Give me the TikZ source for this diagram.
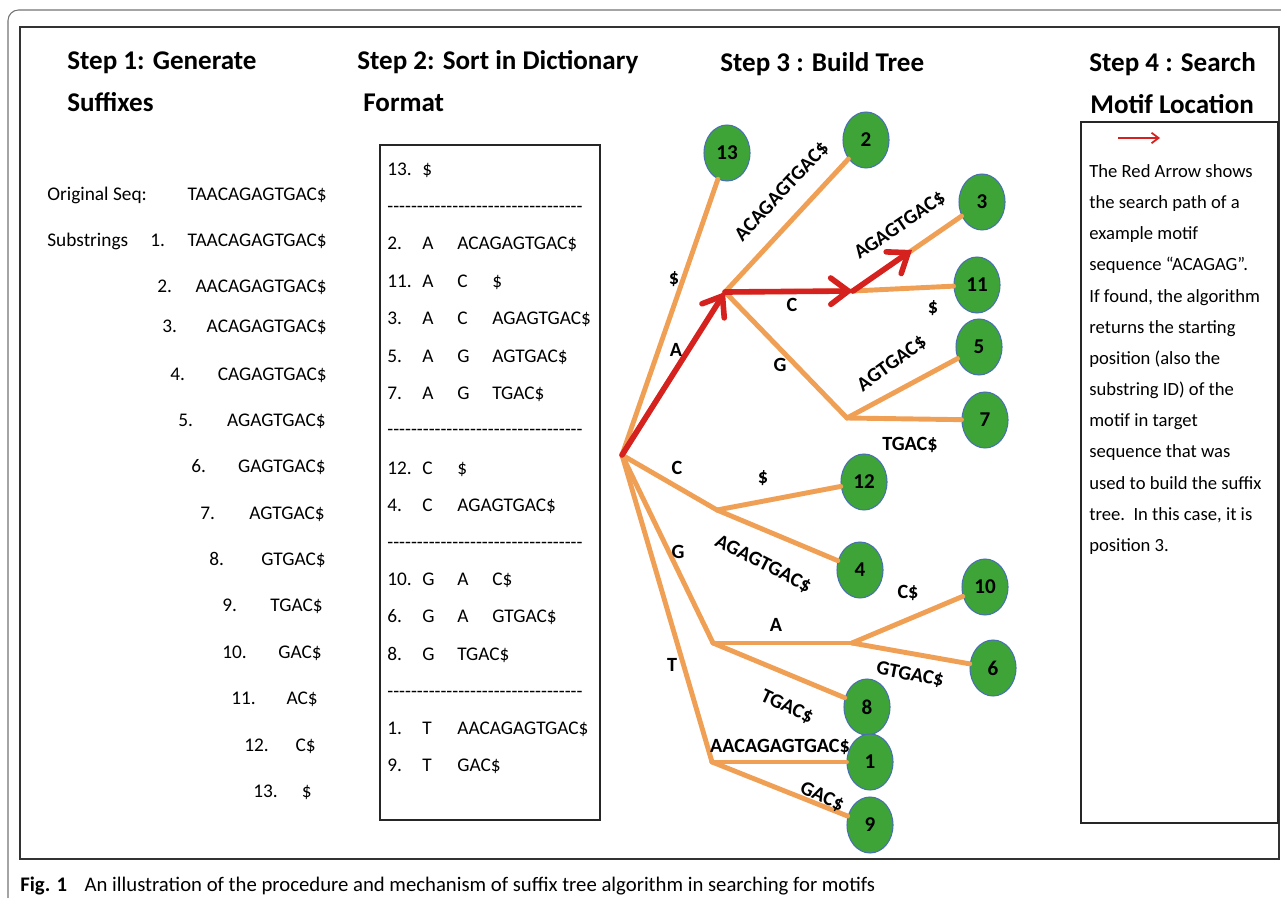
\documentclass[tikz,border=0pt]{standalone}
\usepackage{fontspec}
\setmainfont{Carlito}
\usetikzlibrary{shapes.geometric,arrows.meta}

\definecolor{leafgreen}{RGB}{62,164,56}
\definecolor{leafrim}{RGB}{72,112,178}
\definecolor{branch}{RGB}{240,160,84}
\definecolor{pathred}{RGB}{214,34,30}

\newcommand\dashrow{\foreach\k in {1,...,33}{-\kern0pt}}
\newcommand\sortrow[4]{\makebox[0.7cm][l]{#1}\makebox[0.7cm][l]{#2}\makebox[0.7cm][l]{#3}#4}

\tikzset{
  stephead/.style={font=\fontsize{15.4}{18}\selectfont\bfseries, anchor=base west, inner sep=0},
  body/.style={font=\fontsize{11}{13}\selectfont, inner sep=0},
  leaf/.style={ellipse, fill=leafgreen, draw=leafrim, line width=0.6pt,
    minimum width=0.92cm, minimum height=1.12cm, inner sep=0,
    font=\fontsize{12}{14}\selectfont\bfseries},
  branchline/.style={draw=branch, line width=2.8pt, line cap=round},
  redpath/.style={draw=pathred, line width=3.2pt, line cap=round,
    -{Straight Barb[length=10pt,width=15pt,line cap=round]}},
  lbl/.style={font=\fontsize{11.5}{13}\selectfont\bfseries, inner sep=0},
}

\begin{document}
\begin{tikzpicture}[x=0.02cm,y=-0.02cm]

    \useasboundingbox (0,0) rectangle (1281,898);

    % marcos
    \draw[black!55, line width=0.6pt, rounded corners=6pt] (8,898) -- (8,10) -- (1281,10);
    \draw[black!80, line width=1pt] (20,27) rectangle (1279,859);
    \draw[black!85, line width=0.7pt] (380,145) rectangle (600,820);
    \draw[black!85, line width=0.8pt] (1081,122) rectangle (1278,823);

    % titulos
    \node[stephead] (h1a) at (67,70) {Step 1: Generate};
    \node[stephead] (h1b) at (67,112) {Suffixes};
    \node[stephead] (h2a) at (357,70) {Step 2: Sort in Dictionary};
    \node[stephead] (h2b) at (363,112) {Format};
    \node[stephead] (h3) at (720,72) {Step 3 : Build Tree};
    \node[stephead] (h4a) at (1089,72) {Step 4 : Search};
    \node[stephead] (h4b) at (1090,114) {Motif Location};

    % paso 1
    \node[body, anchor=base west] (orig) at (47,201) {Original Seq:};
    \node[body, anchor=base east] (origseq) at (327,201) {TAACAGAGTGAC\$};
    \node[body, anchor=base west] (subs) at (47,247) {Substrings};
    \node[body, anchor=base west] (n1) at (150,247) {1.};
    \node[body, anchor=base east] (s1) at (327,247) {TAACAGAGTGAC\$};
    \node[body, anchor=base west] (n2) at (157,293) {2.};
    \node[body, anchor=base east] (s2) at (327,293) {AACAGAGTGAC\$};
    \node[body, anchor=base west] (n3) at (162,333) {3.};
    \node[body, anchor=base east] (s3) at (327,333) {ACAGAGTGAC\$};
    \node[body, anchor=base west] (n4) at (170,380) {4.};
    \node[body, anchor=base east] (s4) at (327,380) {CAGAGTGAC\$};
    \node[body, anchor=base west] (n5) at (178,426) {5.};
    \node[body, anchor=base east] (s5) at (326,426) {AGAGTGAC\$};
    \node[body, anchor=base west] (n6) at (191,472) {6.};
    \node[body, anchor=base east] (s6) at (326,472) {GAGTGAC\$};
    \node[body, anchor=base west] (n7) at (200,519) {7.};
    \node[body, anchor=base east] (s7) at (325,519) {AGTGAC\$};
    \node[body, anchor=base west] (n8) at (209,565) {8.};
    \node[body, anchor=base east] (s8) at (326,565) {GTGAC\$};
    \node[body, anchor=base west] (n9) at (222,611) {9.};
    \node[body, anchor=base east] (s9) at (323,611) {TGAC\$};
    \node[body, anchor=base west] (n10) at (222,658) {10.};
    \node[body, anchor=base east] (s10) at (322,658) {GAC\$};
    \node[body, anchor=base west] (n11) at (231,704) {11.};
    \node[body, anchor=base east] (s11) at (318,704) {AC\$};
    \node[body, anchor=base west] (n12) at (244,751) {12.};
    \node[body, anchor=base east] (s12) at (316,751) {C\$};
    \node[body, anchor=base west] (n13) at (253,797) {13.};
    \node[body, anchor=base east] (s13) at (312,797) {\$};

    % paso 2
    \node[body, anchor=base west] (r13) at (387,176) {\sortrow{13.}{\$}{}{}};
    \node[body, anchor=base west] (d1) at (387,213) {\dashrow};
    \node[body, anchor=base west] (r2) at (387,250) {\sortrow{2.}{A}{ACAGAGTGAC\$}{}};
    \node[body, anchor=base west] (r11) at (387,288) {\sortrow{11.}{A}{C}{\$}};
    \node[body, anchor=base west] (r3) at (387,325) {\sortrow{3.}{A}{C}{AGAGTGAC\$}};
    \node[body, anchor=base west] (r5) at (387,362) {\sortrow{5.}{A}{G}{AGTGAC\$}};
    \node[body, anchor=base west] (r7) at (387,399) {\sortrow{7.}{A}{G}{TGAC\$}};
    \node[body, anchor=base west] (d2) at (387,436) {\dashrow};
    \node[body, anchor=base west] (r12) at (387,474) {\sortrow{12.}{C}{\$}{}};
    \node[body, anchor=base west] (r4) at (387,511) {\sortrow{4.}{C}{AGAGTGAC\$}{}};
    \node[body, anchor=base west] (d3) at (387,548) {\dashrow};
    \node[body, anchor=base west] (r10) at (387,585) {\sortrow{10.}{G}{A}{C\$}};
    \node[body, anchor=base west] (r6) at (387,622) {\sortrow{6.}{G}{A}{GTGAC\$}};
    \node[body, anchor=base west] (r8) at (387,660) {\sortrow{8.}{G}{TGAC\$}{}};
    \node[body, anchor=base west] (d4) at (387,697) {\dashrow};
    \node[body, anchor=base west] (r1) at (387,734) {\sortrow{1.}{T}{AACAGAGTGAC\$}{}};
    \node[body, anchor=base west] (r9) at (387,771) {\sortrow{9.}{T}{GAC\$}{}};

    % paso 3: nodos internos
    \coordinate (root) at (622,455);
    \coordinate (nA) at (725,292);
    \coordinate (nAC) at (853,291);
    \coordinate (nAG) at (847,418);
    \coordinate (nC) at (717,510);
    \coordinate (nG) at (713,643);
    \coordinate (nGA) at (852,643);
    \coordinate (nT) at (712,762);
    \coordinate (redtip) at (912,250);

    % hojas
    \node[leaf] (l13) at (727,153) {13};
    \node[leaf] (l2) at (866,140) {2};
    \node[leaf] (l3) at (982,202) {3};
    \node[leaf] (l11) at (977,285) {11};
    \node[leaf] (l5) at (979,347) {5};
    \node[leaf] (l7) at (985,420) {7};
    \node[leaf] (l12) at (864,482) {12};
    \node[leaf] (l4) at (860,570) {4};
    \node[leaf] (l10) at (985,587) {10};
    \node[leaf] (l6) at (993,668) {6};
    \node[leaf] (l8) at (867,707) {8};
    \node[leaf] (l1) at (870,762) {1};
    \node[leaf] (l9) at (870,825) {9};

    % ramas
    \draw[branchline] (root) -- (l13);
    \draw[branchline] (root) -- (nA);
    \draw[branchline] (nA) -- (l2);
    \draw[branchline] (nA) -- (nAC);
    \draw[branchline] (nAC) -- (l3);
    \draw[branchline] (nAC) -- (l11);
    \draw[branchline] (nA) -- (nAG);
    \draw[branchline] (nAG) -- (l5);
    \draw[branchline] (nAG) -- (l7);
    \draw[branchline] (root) -- (nC);
    \draw[branchline] (nC) -- (l12);
    \draw[branchline] (nC) -- (l4);
    \draw[branchline] (root) -- (nG);
    \draw[branchline] (nG) -- (nGA);
    \draw[branchline] (nGA) -- (l10);
    \draw[branchline] (nGA) -- (l6);
    \draw[branchline] (nG) -- (l8);
    \draw[branchline] (root) -- (nT);
    \draw[branchline] (nT) -- (l1);
    \draw[branchline] (nT) -- (l9);

    % camino de busqueda
    \draw[redpath] (root) -- (nA);
    \draw[redpath] (nA) -- (nAC);
    \draw[redpath] (nAC) -- (redtip);

    % etiquetas de ramas
    \node[lbl] (t13) at (674,279) {\$};
    \node[lbl] (tA) at (676,350) {A};
    \node[lbl, rotate=47] (t2) at (782,192) {ACAGAGTGAC\$};
    \node[lbl] (tAC) at (792,305) {C};
    \node[lbl, rotate=34] (t3) at (900,226) {AGAGTGAC\$};
    \node[lbl] (t11) at (933,308) {\$};
    \node[lbl] (tAG) at (780,365) {G};
    \node[lbl, rotate=36] (t5) at (892,364) {AGTGAC\$};
    \node[lbl] (t7) at (910,445) {TGAC\$};
    \node[lbl] (tC) at (677,468) {C};
    \node[lbl] (t12) at (763,478) {\$};
    \node[lbl, rotate=-27] (t4) at (763,564) {AGAGTGAC\$};
    \node[lbl] (tG) at (678,552) {G};
    \node[lbl] (tGA) at (776,625) {A};
    \node[lbl] (t10) at (908,593) {C\$};
    \node[lbl, rotate=-11] (t6) at (910,675) {GTGAC\$};
    \node[lbl, rotate=-25] (t8) at (787,707) {TGAC\$};
    \node[lbl] (tT) at (672,665) {T};
    \node[lbl] (t1) at (780,747) {AACAGAGTGAC\$};
    \node[lbl, rotate=-25] (t9) at (822,797) {GAC\$};

    % paso 4
    \coordinate (legtail) at (1118,138);
    \coordinate (leghead) at (1160,138);
    \draw[pathred, line width=1pt, -{Straight Barb[length=4pt,width=6pt]}] (legtail) -- (leghead);
    \node[body, font=\fontsize{10.6}{17.75}\selectfont, align=left, anchor=north west] (note) at (1089,164)
      {The Red Arrow shows\\the search path of a\\example motif\\sequence “ACAGAG”.\\If found, the algorithm\\returns the starting\\position (also the\\substring ID) of the\\motif in target\\sequence that was\\used to build the suffix\\tree.\ \ In this case, it is\\position 3.};

    % leyenda
    \node[anchor=base west, inner sep=0, font=\fontsize{11.8}{13}\selectfont] (figcap) at (20,891)
      {\textbf{Fig. 1}\hspace{10pt}An illustration of the procedure and mechanism of suffix tree algorithm in searching for motifs};

\end{tikzpicture}
\end{document}
